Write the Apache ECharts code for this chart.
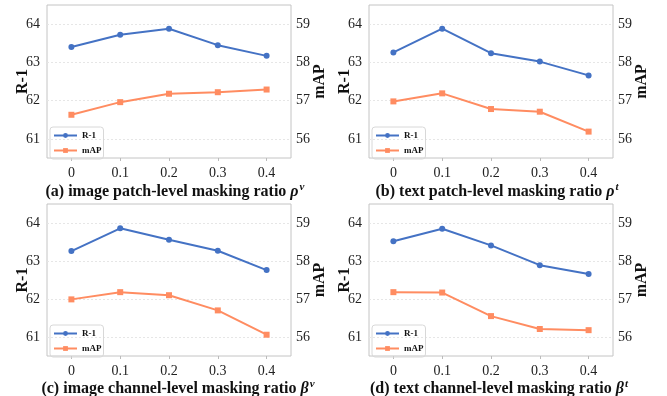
<!DOCTYPE html>
<html>
<head>
<meta charset="utf-8">
<script src="https://cdn.jsdelivr.net/npm/echarts@6/dist/echarts.min.js"></script>
<style>
  html, body { margin: 0; padding: 0; background: #fff; }
  #chart { width: 667px; height: 396px; }
</style>
</head>
<body>
<div id="chart"></div>
<script>
var ratios = ['0', '0.1', '0.2', '0.3', '0.4'];
var r1Ticks = [61, 62, 63, 64];
var mapTicks = [56, 57, 58, 59];

// (a) image patch-level
var r1A = [63.40, 63.72, 63.88, 63.45, 63.17];
var mapA = [56.63, 56.96, 57.18, 57.22, 57.29];
// (b) text patch-level
var r1B = [63.26, 63.88, 63.24, 63.02, 62.66];
var mapB = [56.98, 57.19, 56.78, 56.71, 56.19];
// (c) image channel-level
var r1C = [63.26, 63.86, 63.56, 63.27, 62.76];
var mapC = [56.99, 57.18, 57.10, 56.70, 56.06];
// (d) text channel-level
var r1D = [63.52, 63.85, 63.41, 62.89, 62.66];
var mapD = [57.18, 57.17, 56.55, 56.21, 56.18];

var captions = [
    '(a) image patch-level masking ratio {i|ρ}{s|v}',
    '(b) text patch-level masking ratio {i|ρ}{s|t}',
    '(c) image channel-level masking ratio {i|β}{s|v}',
    '(d) text channel-level masking ratio {i|β}{s|t}'
];

var blue = '#4472C4';
var orange = '#FF8C61';
var serif = '"Liberation Serif", "Times New Roman", serif';

var panels = [
    { left: 47, top: 5, height: 153, r1: r1A, map: mapA, capX: 170, capY: 177 },
    { left: 369, top: 5, height: 153, r1: r1B, map: mapB, capX: 492, capY: 177 },
    { left: 47, top: 204, height: 152, r1: r1C, map: mapC, capX: 173, capY: 374 },
    { left: 369, top: 204, height: 152, r1: r1D, map: mapD, capX: 494, capY: 374 }
];

var grids = [], xAxes = [], yAxes = [], series = [], titles = [], legends = [];

panels.forEach(function (p, i) {
    grids.push({
        left: p.left, top: p.top, width: 244, height: p.height,
        show: true, borderColor: '#c4c4c4', borderWidth: 1, backgroundColor: 'transparent'
    });
    xAxes.push({
        type: 'category', gridIndex: i, data: ratios, boundaryGap: true,
        axisLine: { show: false },
        axisTick: { show: true, alignWithLabel: true, length: 3, lineStyle: { color: '#bbb' } },
        axisLabel: { color: '#222', fontFamily: serif, fontSize: 14, margin: 8 },
        splitLine: { show: false }
    });
    yAxes.push({
        type: 'value', gridIndex: i, position: 'left', min: 60.5, max: 64.5,
        name: 'R-1', nameLocation: 'middle', nameGap: 16, nameRotate: 90, nameMoveOverlap: false,
        nameTextStyle: { color: '#111', fontFamily: serif, fontSize: 16, fontWeight: 'bold' },
        axisLine: { show: false },
        axisTick: { show: false, customValues: r1Ticks },
        axisLabel: { color: '#222', fontFamily: serif, fontSize: 14, margin: 7, customValues: r1Ticks },
        splitLine: { show: true, lineStyle: { color: '#e6e6e6', type: [2, 2], width: 1 } }
    });
    yAxes.push({
        type: 'value', gridIndex: i, position: 'right', min: 55.5, max: 59.5,
        name: 'mAP', nameLocation: 'middle', nameGap: 21, nameRotate: 90, nameMoveOverlap: false,
        nameTextStyle: { color: '#111', fontFamily: serif, fontSize: 16, fontWeight: 'bold' },
        axisLine: { show: false },
        axisTick: { show: false, customValues: mapTicks },
        axisLabel: { color: '#222', fontFamily: serif, fontSize: 14, margin: 5, customValues: mapTicks },
        splitLine: { show: false }
    });
    series.push({
        name: 'R-1', type: 'line', xAxisIndex: i, yAxisIndex: i * 2, data: p.r1,
        symbol: 'circle', symbolSize: 6, color: blue,
        lineStyle: { width: 2, color: blue }, itemStyle: { color: blue }
    });
    series.push({
        name: 'mAP', type: 'line', xAxisIndex: i, yAxisIndex: i * 2 + 1, data: p.map,
        symbol: 'rect', symbolSize: 6, color: orange,
        lineStyle: { width: 2, color: orange }, itemStyle: { color: orange }
    });
    legends.push({
        data: ['R-1', 'mAP'], orient: 'vertical',
        left: p.left + 3, top: p.top + p.height - 31,
        itemWidth: 23, itemHeight: 6, itemGap: 6,
        padding: [4, 2, 4, 3],
        borderColor: '#d8d8d8', borderWidth: 1, borderRadius: 3,
        textStyle: { color: '#111', fontFamily: serif, fontSize: 9, fontWeight: 'bold' }
    });
    titles.push({
        text: captions[i], left: p.capX, top: p.capY, textAlign: 'center',
        textStyle: {
            color: '#111', fontFamily: serif, fontSize: 16, fontWeight: 'bold',
            rich: {
                i: { fontFamily: serif, fontSize: 16, fontStyle: 'italic', fontWeight: 'bold', color: '#111' },
                s: { fontFamily: serif, fontSize: 11, fontStyle: 'italic', color: '#111', padding: [0, 0, 9, 1] }
            }
        }
    });
});

var myChart = echarts.init(document.getElementById('chart'));
myChart.setOption({
    animation: false,
    title: titles,
    legend: legends,
    grid: grids,
    xAxis: xAxes,
    yAxis: yAxes,
    series: series
});
</script>
</body>
</html>
